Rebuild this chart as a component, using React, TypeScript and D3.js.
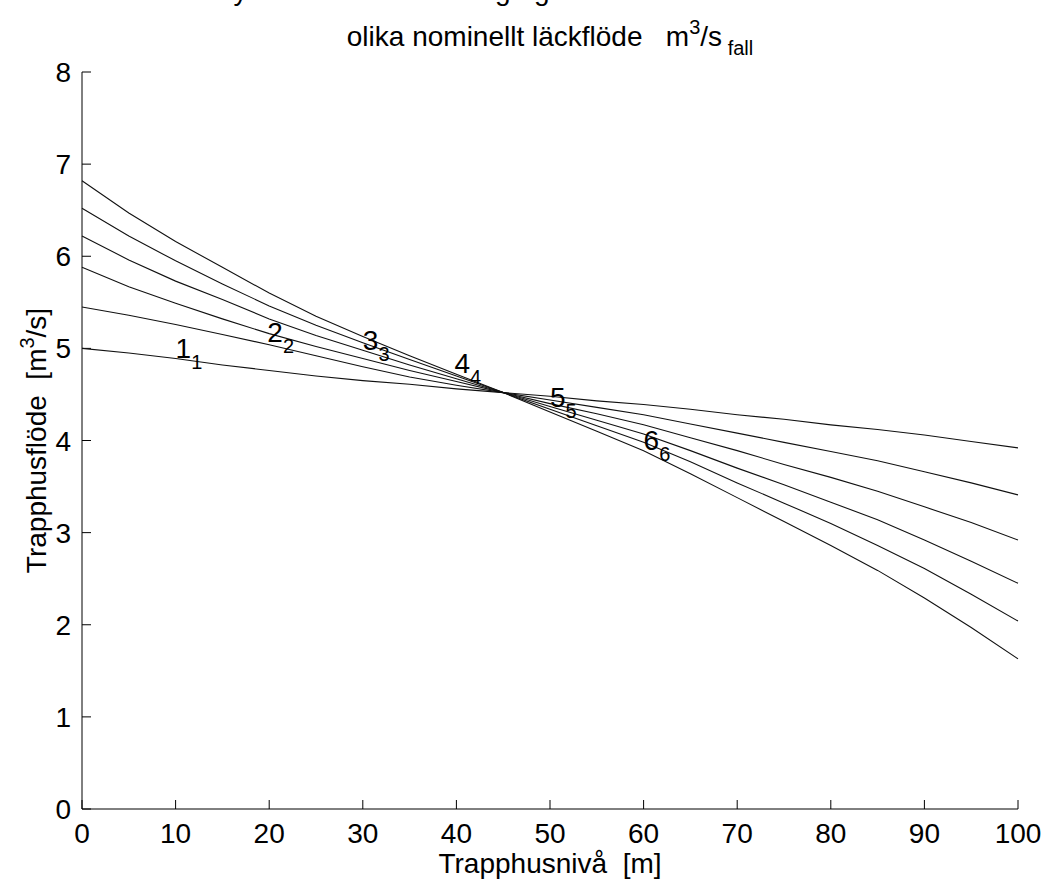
import React from 'react';
import * as d3 from 'd3';

// Stairwell level [m]
const level = [0, 5, 10, 15, 20, 25, 30, 35, 40, 45, 50, 55, 60, 65, 70, 75, 80, 85, 90, 95, 100];

// Stairwell flow [m3/s] for six nominal leakage cases
const case1 = [5.00, 4.95, 4.89, 4.82, 4.76, 4.70, 4.65, 4.61, 4.56, 4.52, 4.48, 4.43, 4.39, 4.34, 4.28, 4.23, 4.17, 4.12, 4.06, 3.99, 3.92];
const case2 = [5.45, 5.36, 5.26, 5.15, 5.04, 4.92, 4.80, 4.69, 4.60, 4.52, 4.44, 4.36, 4.28, 4.18, 4.08, 3.98, 3.88, 3.78, 3.66, 3.54, 3.41];
const case3 = [5.88, 5.67, 5.49, 5.32, 5.16, 5.02, 4.89, 4.76, 4.64, 4.52, 4.40, 4.29, 4.17, 4.03, 3.89, 3.74, 3.60, 3.45, 3.28, 3.11, 2.92];
const case4 = [6.22, 5.96, 5.73, 5.53, 5.32, 5.14, 4.98, 4.82, 4.67, 4.52, 4.37, 4.22, 4.07, 3.89, 3.70, 3.52, 3.33, 3.14, 2.92, 2.69, 2.45];
const case5 = [6.52, 6.22, 5.95, 5.70, 5.46, 5.25, 5.06, 4.88, 4.70, 4.52, 4.34, 4.16, 3.98, 3.77, 3.54, 3.32, 3.10, 2.86, 2.61, 2.33, 2.04];
const case6 = [6.82, 6.47, 6.16, 5.88, 5.60, 5.35, 5.13, 4.92, 4.72, 4.52, 4.31, 4.10, 3.89, 3.64, 3.38, 3.12, 2.86, 2.59, 2.29, 1.97, 1.63];

const seriesList = [case1, case2, case3, case4, case5, case6];

// Curve labels: text, x position, y position
const labelText = ['1', '2', '3', '4', '5', '6'];
const labelX = [10, 19.8, 30, 39.8, 50, 60];
const labelY = [4.9, 5.07, 4.98, 4.73, 4.36, 3.9];

const xTicks = [0, 10, 20, 30, 40, 50, 60, 70, 80, 90, 100];
const yTicks = [0, 1, 2, 3, 4, 5, 6, 7, 8];

const W = 1048;
const H = 886;
const FONT = '"Liberation Sans", Arial, Helvetica, sans-serif';
const FS = 28;
const FS_SMALL = 20;

export default function App() {
  const x = d3.scaleLinear().domain([0, 100]).range([82, 1018]);
  const y = d3.scaleLinear().domain([0, 8]).range([809, 72]);
  const line = d3
    .line<number>()
    .x((_, i) => x(level[i]))
    .y((d) => y(d));
  const tickLen = 9;

  return (
    <svg
      width={W}
      height={H}
      style={{ position: 'absolute', left: 0, top: 0, background: '#fff', display: 'block' }}
      fontFamily={FONT}
    >
      <rect x={0} y={0} width={W} height={H} fill="#fff" />
      {/* Title (first line is cut off at the top edge, as in the reference) */}
      <text x={550} y={0} textAnchor="middle" fontSize={FS} style={{ whiteSpace: 'pre' }}>
        Tryckskillnad och läckage genom fönster och dörrar vid
      </text>
      <text x={550} y={46} textAnchor="middle" fontSize={FS} style={{ whiteSpace: 'pre' }}>
        {'olika nominellt läckflöde   m'}
        <tspan dy={-12} fontSize={FS_SMALL}>3</tspan>
        <tspan dy={12} fontSize={FS}>/s</tspan>
        <tspan dy={9} fontSize={FS_SMALL}>{' fall'}</tspan>
      </text>

      {/* Axes */}
      <line x1={x(0)} x2={x(0)} y1={y(8)} y2={y(0)} stroke="#000" strokeWidth={1} />
      <line x1={x(0)} x2={x(100)} y1={y(0)} y2={y(0)} stroke="#000" strokeWidth={1} />
      {yTicks.map((t) => (
        <g key={'y' + t}>
          <line x1={x(0)} x2={x(0) + tickLen} y1={y(t)} y2={y(t)} stroke="#000" strokeWidth={1} />
          <text x={x(0) - 11} y={y(t)} dy="0.36em" textAnchor="end" fontSize={FS}>
            {t}
          </text>
        </g>
      ))}
      {xTicks.map((t) => (
        <g key={'x' + t}>
          <line x1={x(t)} x2={x(t)} y1={y(0)} y2={y(0) - tickLen} stroke="#000" strokeWidth={1} />
          <text x={x(t)} y={843} textAnchor="middle" fontSize={FS}>
            {t}
          </text>
        </g>
      ))}

      {/* Axis labels */}
      <text x={550} y={873} textAnchor="middle" fontSize={FS} style={{ whiteSpace: 'pre' }}>
        Trapphusnivå  [m]
      </text>
      <text
        transform={`translate(46,${(y(0) + y(8)) / 2}) rotate(-90)`}
        textAnchor="middle"
        fontSize={FS}
        style={{ whiteSpace: 'pre' }}
      >
        {'Trapphusflöde  [m'}
        <tspan dy={-12} fontSize={FS_SMALL}>3</tspan>
        <tspan dy={12} fontSize={FS}>/s]</tspan>
      </text>

      {/* Curves */}
      {seriesList.map((s, i) => (
        <path key={'s' + i} d={line(s) || ''} fill="none" stroke="#111" strokeWidth={1.1} />
      ))}

      {/* Curve labels */}
      {labelText.map((t, i) => (
        <text key={'l' + i} x={x(labelX[i])} y={y(labelY[i])} fontSize={FS}>
          {t}
          <tspan dy={11} fontSize={FS_SMALL}>{t}</tspan>
        </text>
      ))}
    </svg>
  );
}
